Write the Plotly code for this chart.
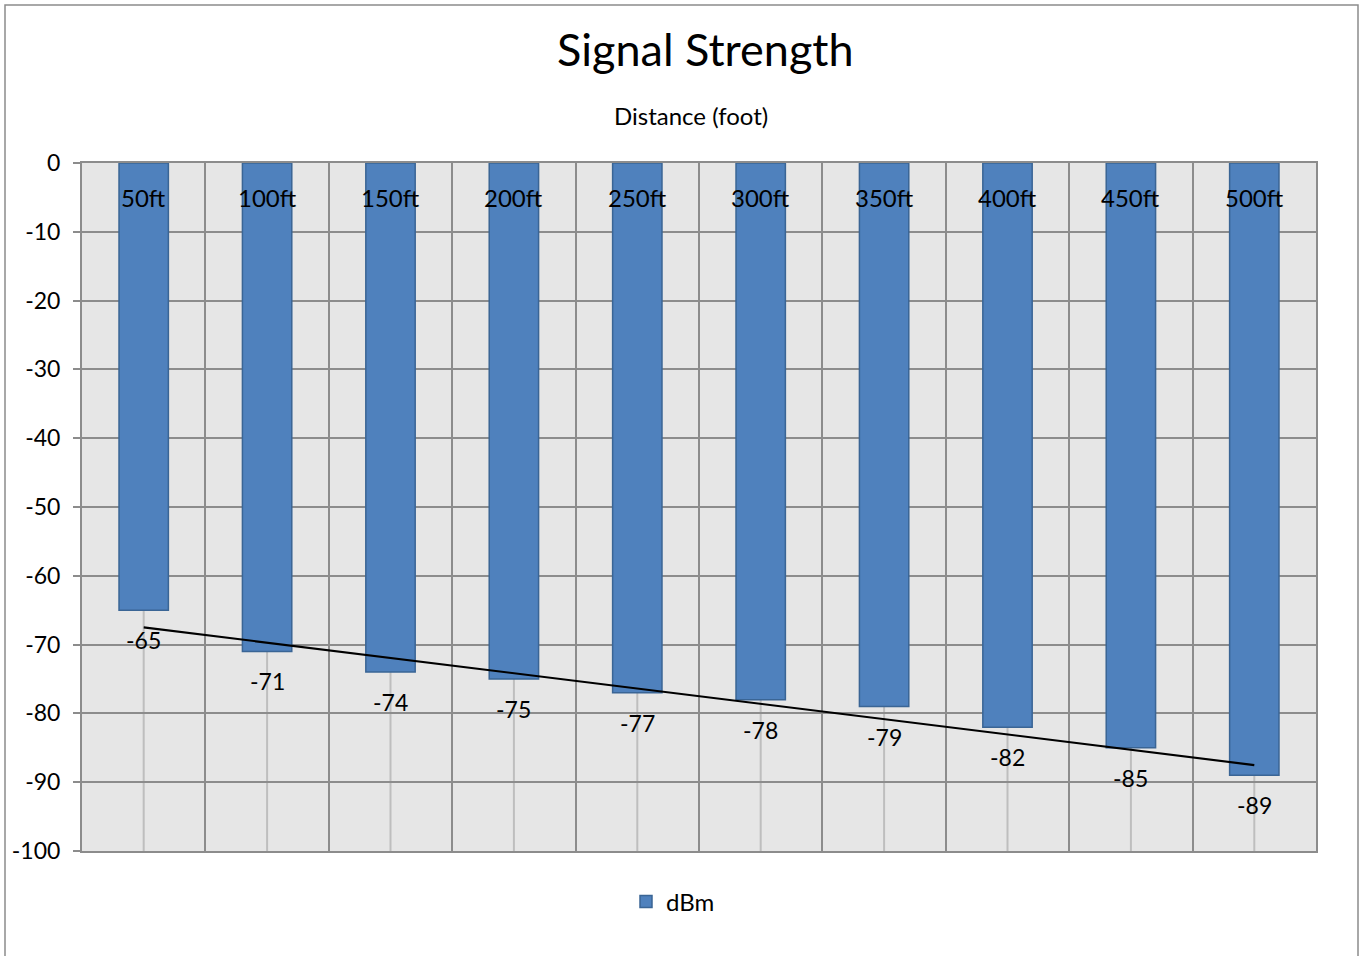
import numpy as np
import plotly.graph_objects as go

# Measured signal strength at each distance
distances = ["50ft", "100ft", "150ft", "200ft", "250ft", "300ft", "350ft", "400ft", "450ft", "500ft"]
dbm = [-65, -71, -74, -75, -77, -78, -79, -82, -85, -89]
y_ticks = [0, -10, -20, -30, -40, -50, -60, -70, -80, -90, -100]
y_tick_text = ["0", "-10", "-20", "-30", "-40", "-50", "-60", "-70", "-80", "-90", "-100"]

FONT = "Lato, Carlito, Calibri, 'Open Sans', sans-serif"
W, H = 1360, 956
L, R, T, B = 82, 1360 - 1316, 163, 956 - 851
PW, PH = W - L - R, H - T - B

# Linear trendline through the measurements
idx = np.arange(1, len(dbm) + 1)
slope, intercept = np.polyfit(idx, dbm, 1)
trend = slope * idx + intercept

fig = go.Figure()
fig.add_trace(go.Bar(
    x=distances, y=dbm, name="dBm", width=0.4,
    marker=dict(color="#4F81BD", line=dict(color="#3A6595", width=1.5)),
    hoverinfo="x+y",
))
fig.add_trace(go.Scatter(
    x=[distances[0], distances[-1]], y=[trend[0], trend[-1]],
    mode="lines", line=dict(color="black", width=2.2), showlegend=False,
    hoverinfo="skip",
))

shapes = []
# light centre lines for each category
for d in distances:
    shapes.append(dict(type="line", xref="x", yref="y", x0=d, x1=d, y0=-100, y1=0,
                       line=dict(color="#BEBEBE", width=2), layer="below"))


def px_to_fx(px):
    return (px - L) / PW


def py_to_fy(py):
    return (H - B - py) / PH


# outer chart frame
shapes.append(dict(type="rect", xref="paper", yref="paper",
                   x0=px_to_fx(5), x1=px_to_fx(1358), y0=py_to_fy(960), y1=py_to_fy(5),
                   line=dict(color="#8C8C8C", width=1.5), fillcolor="rgba(0,0,0,0)", layer="below"))

annotations = []
for d, v in zip(distances, dbm):
    # category label at the top of each bar
    annotations.append(dict(x=d, y=0, xref="x", yref="y", text=d, showarrow=False,
                            yanchor="middle", yshift=-34, font=dict(size=24, color="black", family=FONT)))
    # value label under each bar
    annotations.append(dict(x=d, y=v, xref="x", yref="y", text=str(v), showarrow=False,
                            yanchor="middle", yshift=-30, font=dict(size=23, color="black", family=FONT)))

annotations.append(dict(x=px_to_fx(706), y=py_to_fy(49), xref="paper", yref="paper",
                        text="Signal Strength", showarrow=False, xanchor="center", yanchor="middle",
                        font=dict(size=45, color="black", family=FONT)))
annotations.append(dict(x=px_to_fx(691), y=py_to_fy(115), xref="paper", yref="paper",
                        text="Distance (foot)", showarrow=False, xanchor="center", yanchor="middle",
                        font=dict(size=24, color="black", family=FONT)))

fig.update_layout(
    width=W, height=H,
    margin=dict(l=L, r=R, t=T, b=B),
    paper_bgcolor="white", plot_bgcolor="#E6E6E6",
    font=dict(family=FONT, size=22, color="black"),
    shapes=shapes, annotations=annotations,
    bargap=0.6,
    legend=dict(orientation="h", x=px_to_fx(673), xanchor="center", y=py_to_fy(902), yanchor="middle",
                font=dict(size=24, family=FONT, color="black"), bgcolor="rgba(0,0,0,0)",
                itemwidth=30),
    showlegend=True,
)
fig.update_xaxes(
    type="category", tickson="boundaries", showticklabels=False, ticks="",
    showgrid=True, gridcolor="#8C8C8C", gridwidth=2,
    showline=True, linecolor="#8C8C8C", linewidth=2, mirror=True,
    zeroline=False, fixedrange=True,
)
fig.update_yaxes(
    range=[-100, 0], tickvals=y_ticks, ticktext=y_tick_text,
    ticks="outside", ticklen=7, tickcolor="#8C8C8C", tickwidth=2,
    ticklabelstandoff=8,
    showgrid=True, gridcolor="#8C8C8C", gridwidth=2,
    showline=True, linecolor="#8C8C8C", linewidth=2, mirror=True,
    zeroline=False, fixedrange=True,
    tickfont=dict(size=23, family=FONT, color="black"),
)

fig.write_html("out.html")
